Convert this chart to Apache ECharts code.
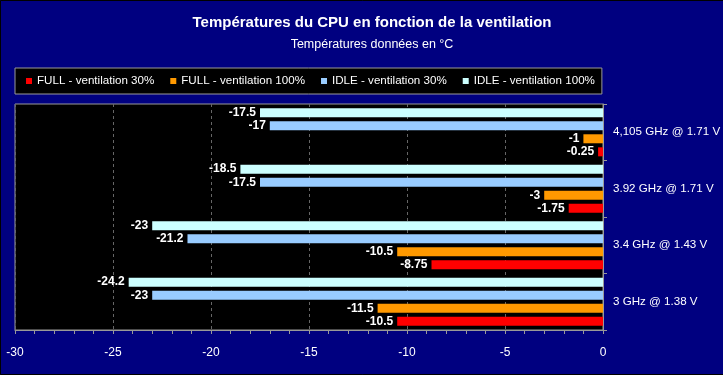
<!DOCTYPE html>
<html>
<head>
<meta charset="utf-8">
<script src="https://cdn.jsdelivr.net/npm/echarts@6/dist/echarts.min.js"></script>
<style>
html, body { margin: 0; padding: 0; background: #000080; }
#main { width: 723px; height: 375px; }
</style>
</head>
<body>
<div id="main"></div>
<script>
var chart = echarts.init(document.getElementById('main'));

var categories = ['3 GHz @ 1.38 V', '3.4 GHz @ 1.43 V', '3.92 GHz @ 1.71 V', '4,105 GHz @ 1.71 V'];
var full30 = [-10.5, -8.75, -1.75, -0.25];
var full100 = [-11.5, -10.5, -3, -1];
var idle30 = [-23, -21.2, -17.5, -17];
var idle100 = [-24.2, -23, -18.5, -17.5];

var seriesNames = ['FULL - ventilation 30%', 'FULL - ventilation 100%', 'IDLE - ventilation 30%', 'IDLE - ventilation 100%'];
var seriesData = [full30, full100, idle30, idle100];
var colors = ['#ff0000', '#ff9900', '#99ccff', '#ccffff'];

var font = 'Liberation Sans, Arial, sans-serif';

// ECharts puts the first series on top of each group, so add them in reverse
var series = [];
for (var i = seriesNames.length - 1; i >= 0; i--) {
    series.push({
        name: seriesNames[i],
        type: 'bar',
        barWidth: 9,
        barGap: '45%',
        itemStyle: { color: colors[i] },
        label: {
            show: true,
            position: 'left',
            distance: 4,
            color: '#fff',
            fontWeight: 'bold',
            fontSize: 12,
            fontFamily: font
        },
        data: seriesData[i]
    });
}

var option = {
    backgroundColor: '#000080',
    animation: false,
    title: {
        text: 'Températures du CPU en fonction de la ventilation',
        subtext: 'Températures données en °C',
        left: 367,
        textAlign: 'center',
        top: 10,
        itemGap: 8,
        textStyle: { color: '#fff', fontSize: 15, fontWeight: 'bold', fontFamily: font },
        subtextStyle: { color: '#fff', fontSize: 12.5, fontFamily: font }
    },
    legend: {
        left: 15,
        top: 68,
        padding: [7, 7, 7, 11],
        backgroundColor: '#000',
        borderColor: '#999',
        borderWidth: 1,
        itemWidth: 6,
        itemHeight: 6,
        itemGap: 16,
        icon: 'rect',
        textStyle: { color: '#fff', fontSize: 11.6, fontFamily: font },
        data: seriesNames
    },
    grid: {
        left: 15,
        right: 120,
        top: 104,
        bottom: 45,
        outerBoundsMode: 'none',
        containLabel: false,
        show: true,
        backgroundColor: '#000',
        borderColor: '#999',
        borderWidth: 1
    },
    xAxis: {
        type: 'value',
        min: -30,
        max: 0,
        interval: 5,
        axisLine: { show: true, lineStyle: { color: '#999' } },
        axisTick: { show: true, length: 4, lineStyle: { color: '#999' } },
        minorTick: { show: true, splitNumber: 5, length: 4, lineStyle: { color: '#999' } },
        axisLabel: { color: '#fff', fontSize: 12, fontFamily: font, margin: 17 },
        splitLine: { show: true, lineStyle: { color: '#666', type: [3, 3] } }
    },
    yAxis: {
        type: 'category',
        position: 'right',
        data: categories,
        axisLine: { show: true, lineStyle: { color: '#999' } },
        axisTick: { show: true, length: 4, lineStyle: { color: '#999' } },
        axisLabel: { color: '#fff', fontSize: 11.6, fontFamily: font, margin: 10 },
        splitLine: { show: false }
    },
    graphic: [{
        type: 'rect',
        shape: { x: 0.5, y: 0.5, width: 724, height: 374 },
        style: { fill: 'none', stroke: '#000', lineWidth: 1 },
        silent: true
    }],
    series: series
};

chart.setOption(option);
</script>
</body>
</html>
